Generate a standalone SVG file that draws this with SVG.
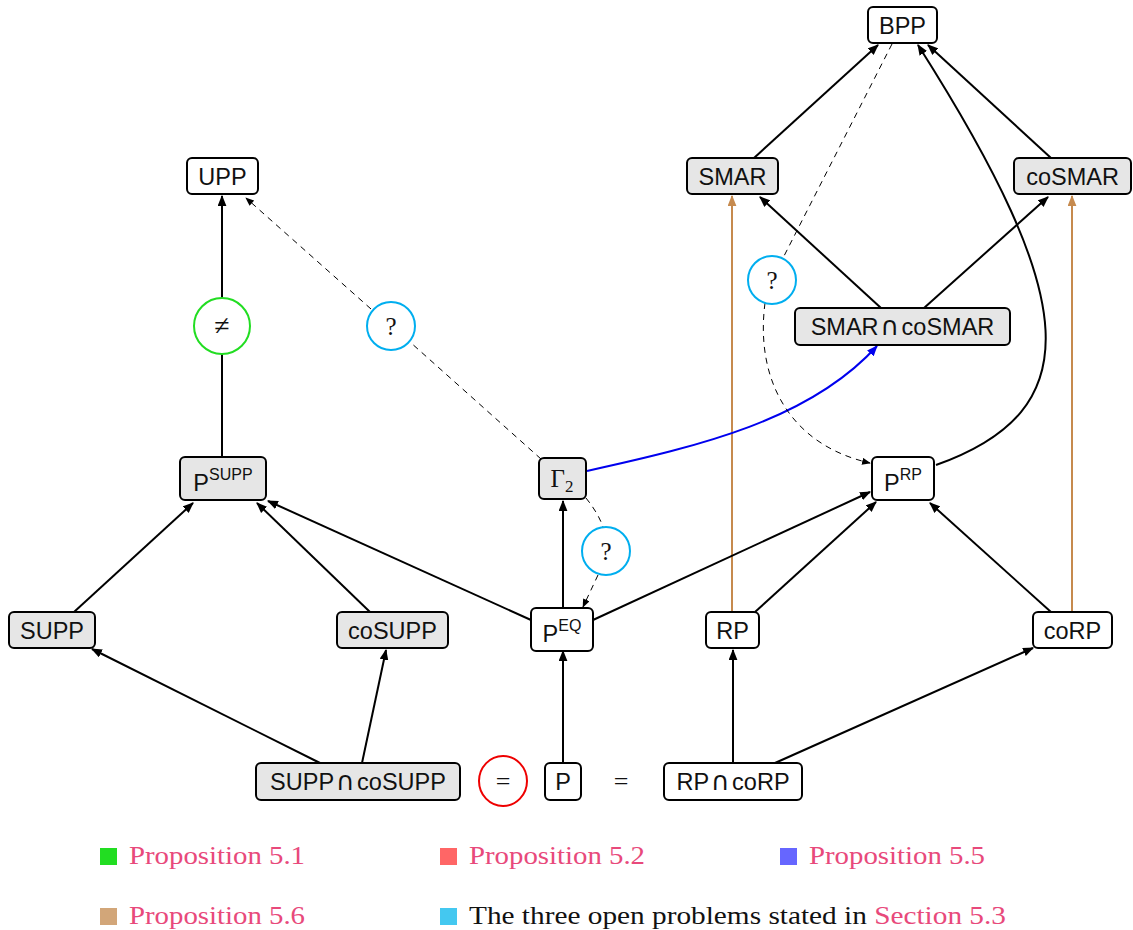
<svg xmlns="http://www.w3.org/2000/svg" width="1133" height="930" viewBox="0 0 1133 930">
<defs>
<style>
.n{stroke:#000;stroke-width:2}
.g{fill:#e6e6e6}
.w{fill:#fff}
.t{font-family:"Liberation Sans","DejaVu Sans",sans-serif;font-size:23.5px;fill:#111;text-anchor:middle}
.sup{font-size:16px}
.cap{font-family:"DejaVu Sans",sans-serif;font-size:26px}
.m{font-family:"Liberation Serif","DejaVu Serif",serif;fill:#111;text-anchor:middle}
.e{fill:none;stroke:#000;stroke-width:2}
.d{fill:none;stroke:#000;stroke-width:1;stroke-dasharray:6 5}
.b{fill:none;stroke:#c68a4e;stroke-width:2}
.bl{fill:none;stroke:#0000ee;stroke-width:2}
.lg{font-family:"Liberation Serif","DejaVu Serif",serif;font-size:25px;fill:#e8497b}
.lk{fill:#111}
</style>
<marker id="a" viewBox="0 0 10 8" refX="9" refY="4" markerWidth="11" markerHeight="9" markerUnits="userSpaceOnUse" orient="auto"><path d="M0,0 L10,4 L0,8 Z" fill="#000"/></marker>
<marker id="ad" viewBox="0 0 10 8" refX="9" refY="4" markerWidth="9" markerHeight="7" markerUnits="userSpaceOnUse" orient="auto"><path d="M0,0 L10,4 L0,8 Z" fill="#000"/></marker>
<marker id="ab" viewBox="0 0 10 8" refX="9" refY="4" markerWidth="11" markerHeight="9" markerUnits="userSpaceOnUse" orient="auto"><path d="M0,0 L10,4 L0,8 Z" fill="#c68a4e"/></marker>
<marker id="abl" viewBox="0 0 10 8" refX="9" refY="4" markerWidth="11" markerHeight="9" markerUnits="userSpaceOnUse" orient="auto"><path d="M0,0 L10,4 L0,8 Z" fill="#0000ee"/></marker>
</defs>
<rect width="1133" height="930" fill="#fff"/>
<g id="connectors">
<line class="e" x1="754" y1="158" x2="878" y2="45" marker-end="url(#a)"/>
<line class="e" x1="1051" y1="158" x2="928" y2="45" marker-end="url(#a)"/>
<path class="e" d="M936,465 C1090,410 1080,300 918,45" marker-end="url(#a)"/>
<line class="e" x1="881" y1="308" x2="760" y2="197" marker-end="url(#a)"/>
<line class="e" x1="924" y1="308" x2="1048" y2="197" marker-end="url(#a)"/>
<line class="b" x1="732" y1="612" x2="732" y2="196" marker-end="url(#ab)"/>
<line class="b" x1="1072" y1="612" x2="1072" y2="196" marker-end="url(#ab)"/>
<path class="bl" d="M587,471 C700,446 810,420 877,346" marker-end="url(#abl)"/>
<line class="e" x1="222" y1="298" x2="222" y2="196" marker-end="url(#a)"/>
<line class="e" x1="222" y1="457" x2="222" y2="354"/>
<line class="d" x1="541" y1="459" x2="410" y2="342"/>
<line class="d" x1="371" y1="309" x2="246" y2="198" marker-end="url(#ad)"/>
<line class="d" x1="892" y1="44" x2="783" y2="258"/>
<path class="d" d="M765,303 C755,380 790,445 870,463" marker-end="url(#ad)"/>
<path class="d" d="M586,498 C594,508 600,518 603,527"/>
<line class="d" x1="598" y1="575" x2="583" y2="607" marker-end="url(#ad)"/>
<line class="e" x1="563" y1="608" x2="563" y2="501" marker-end="url(#a)"/>
<line class="e" x1="531" y1="620" x2="268" y2="501" marker-end="url(#a)"/>
<line class="e" x1="593" y1="620" x2="870" y2="492" marker-end="url(#a)"/>
<line class="e" x1="74" y1="612" x2="193" y2="503" marker-end="url(#a)"/>
<line class="e" x1="370" y1="612" x2="257" y2="503" marker-end="url(#a)"/>
<line class="e" x1="755" y1="612" x2="876" y2="502" marker-end="url(#a)"/>
<line class="e" x1="1051" y1="612" x2="930" y2="503" marker-end="url(#a)"/>
<line class="e" x1="320" y1="763" x2="92" y2="649" marker-end="url(#a)"/>
<line class="e" x1="362" y1="763" x2="386" y2="650" marker-end="url(#a)"/>
<line class="e" x1="563" y1="763" x2="563" y2="651" marker-end="url(#a)"/>
<line class="e" x1="733" y1="763" x2="733" y2="650" marker-end="url(#a)"/>
<line class="e" x1="775" y1="763" x2="1033" y2="648" marker-end="url(#a)"/>
</g>
<g id="BPP"><rect class="n w" x="868" y="7" width="69" height="36" rx="5"/><text class="t" x="902.5" y="33.5">BPP</text></g>
<g id="SMAR"><rect class="n g" x="687" y="158" width="91" height="36" rx="5"/><text class="t" x="732.5" y="184.5">SMAR</text></g>
<g id="coSMAR"><rect class="n g" x="1014" y="158" width="117" height="36" rx="5"/><text class="t" x="1072.5" y="184.5">coSMAR</text></g>
<g id="SMARcapcoSMAR"><rect class="n g" x="795" y="308" width="215" height="37" rx="5"/><text class="t" x="902.5" y="335">SMAR<tspan class="cap" dx="2">∩</tspan><tspan dx="2">coSMAR</tspan></text></g>
<g id="UPP"><rect class="n w" x="187" y="158" width="71" height="36" rx="5"/><text class="t" x="222.5" y="184.5">UPP</text></g>
<g id="neq"><circle cx="222" cy="326" r="28" fill="#fff" stroke="#22dd22" stroke-width="2"/><text class="m" x="222" y="335" font-size="28">≠</text></g>
<g id="q1"><circle cx="391" cy="326" r="24" fill="#fff" stroke="#00aeef" stroke-width="2"/><text class="m" x="391" y="335" font-size="25">?</text></g>
<g id="q2"><circle cx="772" cy="280" r="24" fill="#fff" stroke="#00aeef" stroke-width="2"/><text class="m" x="772" y="289" font-size="25">?</text></g>
<g id="q3"><circle cx="606" cy="551" r="24" fill="#fff" stroke="#00aeef" stroke-width="2"/><text class="m" x="606" y="560" font-size="25">?</text></g>
<g id="Gamma2"><rect class="n g" x="539" y="458" width="47" height="41" rx="5"/><text class="m" x="562" y="487" font-size="25">Γ<tspan font-size="17" dy="5">2</tspan></text></g>
<g id="PSUPP"><rect class="n g" x="180" y="457" width="86" height="43" rx="5"/><text class="t" x="223" y="491">P<tspan class="sup" dy="-11">SUPP</tspan></text></g>
<g id="PRP"><rect class="n w" x="872" y="457" width="62" height="43" rx="5"/><text class="t" x="903" y="491">P<tspan class="sup" dy="-11">RP</tspan></text></g>
<g id="PEQ"><rect class="n w" x="531" y="608" width="62" height="43" rx="5"/><text class="t" x="562" y="642">P<tspan class="sup" dy="-11">EQ</tspan></text></g>
<g id="SUPP"><rect class="n g" x="9" y="612" width="86" height="36" rx="5"/><text class="t" x="52" y="638.5">SUPP</text></g>
<g id="coSUPP"><rect class="n g" x="337" y="612" width="111" height="36" rx="5"/><text class="t" x="392.5" y="638.5">coSUPP</text></g>
<g id="RP"><rect class="n w" x="706" y="612" width="53" height="36" rx="5"/><text class="t" x="732.5" y="638.5">RP</text></g>
<g id="coRP"><rect class="n w" x="1033" y="612" width="79" height="36" rx="5"/><text class="t" x="1072.5" y="638.5">coRP</text></g>
<g id="SUPPcapcoSUPP"><rect class="n g" x="256" y="763" width="204" height="37" rx="5"/><text class="t" x="358" y="790">SUPP<tspan class="cap" dx="2">∩</tspan><tspan dx="2">coSUPP</tspan></text></g>
<g id="eqc"><ellipse cx="503" cy="781" rx="24" ry="25" fill="#fff" stroke="#ee0000" stroke-width="2"/><text class="m" x="503" y="790" font-size="26">=</text></g>
<g id="P"><rect class="n w" x="545" y="763" width="36" height="37" rx="5"/><text class="t" x="563" y="790">P</text></g>
<g id="eq"><text class="m" x="621" y="790" font-size="26">=</text></g>
<g id="RPcapcoRP"><rect class="n w" x="664" y="763" width="138" height="37" rx="5"/><text class="t" x="733" y="790">RP<tspan class="cap" dx="2">∩</tspan><tspan dx="2">coRP</tspan></text></g>
<g id="legend">
<rect x="100" y="848" width="17" height="17" fill="#22dd22"/><text class="lg" x="129" y="864" textLength="176" lengthAdjust="spacingAndGlyphs">Proposition 5.1</text>
<rect x="440" y="848" width="17" height="17" fill="#ff6666"/><text class="lg" x="469" y="864" textLength="176" lengthAdjust="spacingAndGlyphs">Proposition 5.2</text>
<rect x="780" y="848" width="17" height="17" fill="#6666ff"/><text class="lg" x="809" y="864" textLength="176" lengthAdjust="spacingAndGlyphs">Proposition 5.5</text>
<rect x="100" y="908" width="17" height="17" fill="#d2a679"/><text class="lg" x="129" y="924" textLength="176" lengthAdjust="spacingAndGlyphs">Proposition 5.6</text>
<rect x="440" y="908" width="17" height="17" fill="#44c8f0"/><text class="lg" x="469" y="924" textLength="537" lengthAdjust="spacingAndGlyphs"><tspan class="lk">The three open problems stated in </tspan>Section 5.3</text>
</g>
</svg>
